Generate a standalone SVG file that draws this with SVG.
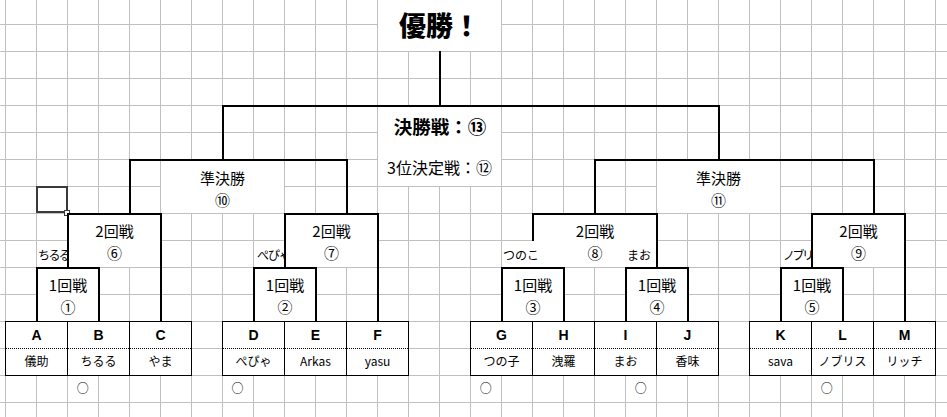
<svg xmlns="http://www.w3.org/2000/svg" width="947" height="417" viewBox="0 0 947 417">
<style>
.grid{stroke:#c0c0c0;stroke-width:1;fill:none}
.br{stroke:#000;stroke-width:2;fill:none;stroke-linecap:square}
.wf{fill:#fff}
.tb{fill:#fff;stroke:#000;stroke-width:1}
.dot{stroke:#000;stroke-width:1;stroke-dasharray:1 1}
text{font-family:"Noto Sans CJK JP","Noto Sans",sans-serif;fill:#000}
.bx{font-size:15px;text-anchor:middle}
.hd{font-family:"Liberation Sans",Arial,sans-serif;font-weight:bold;font-size:14px;text-anchor:middle}
.nm{font-size:12px;text-anchor:middle}
.lb{font-size:12px}
.mk{font-size:12px;text-anchor:middle}
</style>
<defs>
<clipPath id="c1"><rect x="36" y="240" width="31" height="27"/></clipPath>
<clipPath id="c2"><rect x="253" y="240" width="31" height="27"/></clipPath>
<clipPath id="c3"><rect x="780" y="240" width="31" height="27"/></clipPath>
</defs>
<rect width="947" height="417" fill="#fff"/>
<g id="grid" class="grid">
<path d="M5.5 0V417M36.5 0V417M67.5 0V417M98.5 0V417M129.5 0V417M160.5 0V417M191.5 0V417M222.5 0V417M253.5 0V417M284.5 0V417M315.5 0V417M346.5 0V417M377.5 0V417M408.5 0V417M439.5 0V417M470.5 0V417M501.5 0V417M532.5 0V417M563.5 0V417M594.5 0V417M625.5 0V417M656.5 0V417M687.5 0V417M718.5 0V417M749.5 0V417M780.5 0V417M811.5 0V417M842.5 0V417M873.5 0V417M904.5 0V417M935.5 0V417"/>
<path d="M0 24.5H947M0 51.5H947M0 78.5H947M0 105.5H947M0 132.5H947M0 159.5H947M0 186.5H947M0 213.5H947M0 240.5H947M0 267.5H947M0 294.5H947M0 321.5H947M0 348.5H947M0 375.5H947M0 402.5H947"/>
</g>
<g id="selection">
<rect x="37" y="187" width="30" height="25" fill="none" stroke="#3a3a3a" stroke-width="2"/>
<rect x="64.5" y="210.5" width="5" height="5" fill="#fff" stroke="#3a3a3a" stroke-width="1"/>
</g>
<g id="title">
<rect class="wf" x="378" y="0" width="123" height="51"/>
<text x="439.5" y="36" font-size="27" font-weight="900" text-anchor="middle">優勝！</text>
</g>
<g id="final">
<rect class="wf" x="378" y="106" width="123" height="80"/>
<text x="440" y="133.5" font-size="18.5" font-weight="bold" text-anchor="middle">決勝戦：⑬</text>
<text x="439.5" y="174" font-size="16" text-anchor="middle">3位決定戦：⑫</text>
</g>
<g id="semi10">
<rect class="wf" x="161" y="160" width="123" height="53"/>
<text class="bx" x="222.5" y="183.5">準決勝</text>
<text class="bx" x="222.5" y="205.5">⑩</text>
</g>
<g id="semi11">
<rect class="wf" x="657" y="160" width="123" height="53"/>
<text class="bx" x="718.5" y="183.5">準決勝</text>
<text class="bx" x="718.5" y="205.5">⑪</text>
</g>
<g id="labels">
<text class="lb" x="38" y="259.5" letter-spacing="-1.6" clip-path="url(#c1)">ちるる</text>
<text class="lb" x="257" y="259.5" letter-spacing="-1" clip-path="url(#c2)">ぺぴゃ</text>
<text class="lb" x="783" y="259.5" letter-spacing="-2.5" clip-path="url(#c3)">ノブリス</text>
</g>
<g id="r2-6">
<rect class="wf" x="67" y="213" width="94" height="54"/>
<text class="bx" x="114.5" y="236.5">2回戦</text>
<text class="bx" x="114.5" y="258.5">⑥</text>
</g>
<g id="r2-7">
<rect class="wf" x="284" y="213" width="94" height="54"/>
<text class="bx" x="331.5" y="236.5">2回戦</text>
<text class="bx" x="331.5" y="258.5">⑦</text>
</g>
<g id="r2-8">
<rect class="wf" x="532" y="213" width="125" height="54"/>
<text class="bx" x="595" y="236.5">2回戦</text>
<text class="bx" x="595" y="258.5">⑧</text>
</g>
<g id="r2-9">
<rect class="wf" x="811" y="213" width="94" height="54"/>
<text class="bx" x="858.5" y="236.5">2回戦</text>
<text class="bx" x="858.5" y="258.5">⑨</text>
</g>
<g id="r1-1">
<rect class="wf" x="36" y="267" width="63" height="54"/>
<text class="bx" x="68" y="290.5">1回戦</text>
<text class="bx" x="68" y="312.5">①</text>
</g>
<g id="r1-2">
<rect class="wf" x="253" y="267" width="63" height="54"/>
<text class="bx" x="285" y="290.5">1回戦</text>
<text class="bx" x="285" y="312.5">②</text>
</g>
<g id="r1-3">
<rect class="wf" x="501" y="267" width="63" height="54"/>
<text class="bx" x="533" y="290.5">1回戦</text>
<text class="bx" x="533" y="312.5">③</text>
</g>
<g id="r1-4">
<rect class="wf" x="625" y="267" width="63" height="54"/>
<text class="bx" x="657" y="290.5">1回戦</text>
<text class="bx" x="657" y="312.5">④</text>
</g>
<g id="r1-5">
<rect class="wf" x="780" y="267" width="63" height="54"/>
<text class="bx" x="812" y="290.5">1回戦</text>
<text class="bx" x="812" y="312.5">⑤</text>
</g>
<g id="connectors" class="br">
<path d="M440 52V106"/>
<path d="M223 106H719"/>
<path d="M223 106V160M130 214V160H347V214"/>
<path d="M719 106V160M595 214V160H874V214"/>
<path d="M68 267V214H161V321"/>
<path d="M37 321V268H99V321"/>
<path d="M285 267V214H378V321"/>
<path d="M254 321V268H316V321"/>
<path d="M533 267V214H657V267"/>
<path d="M502 321V268H564V321"/>
<path d="M626 321V268H688V321"/>
<path d="M812 267V214H905V321"/>
<path d="M781 321V268H843V321"/>
</g>
<g id="labels2">
<rect class="wf" x="502" y="241" width="40" height="26"/>
<text class="lb" x="503" y="259.5">つのこ</text>
<text class="lb" x="627" y="259.5">まお</text>
</g>
<g id="team-A"><rect class="tb" x="5.5" y="321.5" width="62" height="54"/><path class="dot" d="M6 348.5H67"/><text class="hd" x="36.5" y="340">A</text><text class="nm" x="36.5" y="366">儀助</text></g>
<g id="team-B"><rect class="tb" x="67.5" y="321.5" width="62" height="54"/><path class="dot" d="M68 348.5H129"/><text class="hd" x="98.5" y="340">B</text><text class="nm" x="98.5" y="366">ちるる</text></g>
<g id="team-C"><rect class="tb" x="129.5" y="321.5" width="62" height="54"/><path class="dot" d="M130 348.5H191"/><text class="hd" x="160.5" y="340">C</text><text class="nm" x="160.5" y="366">やま</text></g>
<g id="team-D"><rect class="tb" x="222.5" y="321.5" width="62" height="54"/><path class="dot" d="M223 348.5H284"/><text class="hd" x="253.5" y="340">D</text><text class="nm" x="253.5" y="366">ぺぴゃ</text></g>
<g id="team-E"><rect class="tb" x="284.5" y="321.5" width="62" height="54"/><path class="dot" d="M285 348.5H346"/><text class="hd" x="315.5" y="340">E</text><text class="nm" x="315.5" y="366">Arkas</text></g>
<g id="team-F"><rect class="tb" x="346.5" y="321.5" width="62" height="54"/><path class="dot" d="M347 348.5H408"/><text class="hd" x="377.5" y="340">F</text><text class="nm" x="377.5" y="366">yasu</text></g>
<g id="team-G"><rect class="tb" x="470.5" y="321.5" width="62" height="54"/><path class="dot" d="M471 348.5H532"/><text class="hd" x="501.5" y="340">G</text><text class="nm" x="501.5" y="366">つの子</text></g>
<g id="team-H"><rect class="tb" x="532.5" y="321.5" width="62" height="54"/><path class="dot" d="M533 348.5H594"/><text class="hd" x="563.5" y="340">H</text><text class="nm" x="563.5" y="366">洩羅</text></g>
<g id="team-I"><rect class="tb" x="594.5" y="321.5" width="62" height="54"/><path class="dot" d="M595 348.5H656"/><text class="hd" x="625.5" y="340">I</text><text class="nm" x="625.5" y="366">まお</text></g>
<g id="team-J"><rect class="tb" x="656.5" y="321.5" width="62" height="54"/><path class="dot" d="M657 348.5H718"/><text class="hd" x="687.5" y="340">J</text><text class="nm" x="687.5" y="366">香味</text></g>
<g id="team-K"><rect class="tb" x="749.5" y="321.5" width="62" height="54"/><path class="dot" d="M750 348.5H811"/><text class="hd" x="780.5" y="340">K</text><text class="nm" x="780.5" y="366">sava</text></g>
<g id="team-L"><rect class="tb" x="811.5" y="321.5" width="62" height="54"/><path class="dot" d="M812 348.5H873"/><text class="hd" x="842.5" y="340">L</text><text class="nm" x="842.5" y="366">ノブリス</text></g>
<g id="team-M"><rect class="tb" x="873.5" y="321.5" width="62" height="54"/><path class="dot" d="M874 348.5H935"/><text class="hd" x="904.5" y="340">M</text><text class="nm" x="904.5" y="366">リッチ</text></g>
<g id="marks">
<text class="mk" x="82.7" y="392.5">○</text>
<text class="mk" x="237.5" y="392.5">○</text>
<text class="mk" x="485.7" y="392.5">○</text>
<text class="mk" x="640.7" y="392.5">○</text>
<text class="mk" x="826.7" y="392.5">○</text>
</g>
</svg>
